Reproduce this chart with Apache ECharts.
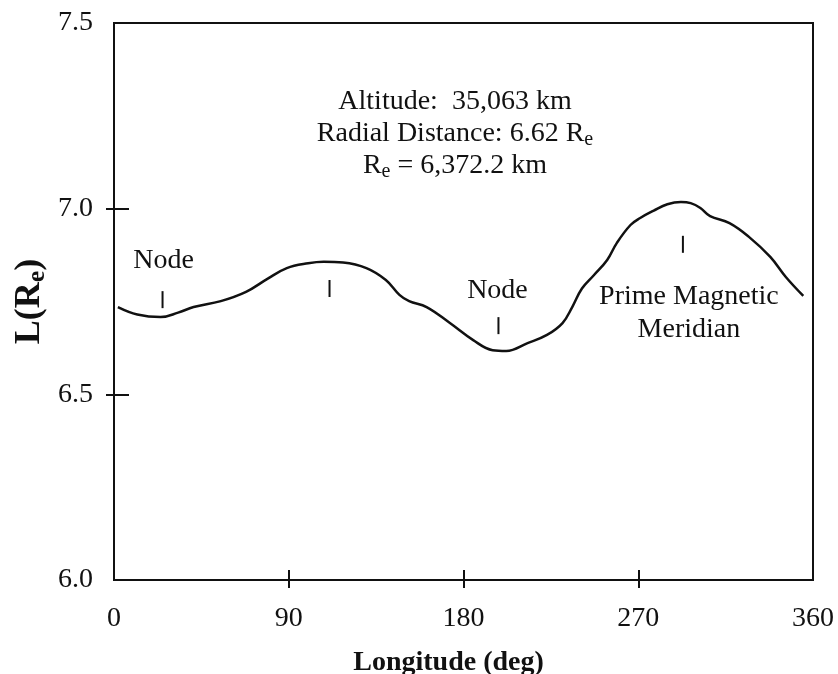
<!DOCTYPE html>
<html>
<head>
<meta charset="utf-8">
<script src="https://cdn.jsdelivr.net/npm/echarts@6/dist/echarts.min.js"></script>
<style>
html,body{margin:0;padding:0;background:#fff;}
#chart{width:838px;height:674px;}
</style>
</head>
<body>
<div id="chart"></div>
<script>
// ---- data ----
const longitude = [2, 12, 24, 33, 41, 55, 68, 79, 89, 100, 108, 118, 130, 140, 147, 152, 161, 173, 185, 195, 202, 213, 223, 231, 236, 241, 247, 254, 259, 266, 271, 278, 285, 292, 297, 302, 307, 317, 327, 338, 346, 355];
const lValue    = [6.735, 6.715, 6.708, 6.72, 6.735, 6.751, 6.776, 6.811, 6.840, 6.853, 6.857, 6.855, 6.840, 6.808, 6.768, 6.751, 6.735, 6.692, 6.646, 6.619, 6.617, 6.638, 6.660, 6.692, 6.735, 6.785, 6.820, 6.862, 6.908, 6.956, 6.975, 6.995, 7.012, 7.018, 7.015, 7.002, 6.980, 6.961, 6.924, 6.870, 6.816, 6.765];
const markerLon = [25, 111, 198, 293];
const markerL   = [6.755, 6.785, 6.685, 6.904];
const markerText = ['Node', '', 'Node', 'Prime Magnetic\nMeridian'];
const xTicks = [90, 180, 270];
const yTicks = [6.5, 7.0];
const xLabels = [0, 90, 180, 270, 360];
const yLabels = [6.0, 6.5, 7.0, 7.5];

// ---- style ----
const FONT = '"Liberation Serif", "Times New Roman", serif';
const INK = '#111';

const chart = echarts.init(document.getElementById('chart'));

const curve = longitude.map((x, i) => [x, lValue[i]]);
const markerLabelCfg = [
  {position: 'top', distance: 14, offset: [1, 0]},
  {show: false},
  {position: 'top', distance: 10, offset: [-1, 0]},
  {position: 'bottom', distance: 27, offset: [6, 0]}
];
const markers = markerLon.map((x, i) => ({
  value: [x, markerL[i]],
  name: markerText[i],
  label: Object.assign({
    show: markerText[i] !== '', formatter: '{b}',
    fontFamily: FONT, fontSize: 28, color: INK, lineHeight: 33, align: 'center'
  }, markerLabelCfg[i])
}));

const option = {
  animation: false,
  backgroundColor: '#fff',
  grid: {left: 114, right: 25, top: 23, bottom: 94, outerBoundsMode: 'none', containLabel: false,
    show: true, borderColor: '#111', borderWidth: 2, backgroundColor: 'transparent'},
  xAxis: [{
    type: 'value', min: 0, max: 360, interval: 90, position: 'bottom',
    name: 'Longitude (deg)', nameLocation: 'middle', nameGap: 69, nameMoveOverlap: false,
    nameTextStyle: {fontFamily: FONT, fontSize: 28, fontWeight: 'bold', color: INK, verticalAlign: 'top', padding: [0, 30, 0, 0]},
    axisLine: {show: true, onZero: false, lineStyle: {color: '#111', width: 2}},
    axisTick: {show: true, inside: true, length: 10, customValues: xTicks, lineStyle: {color: '#111', width: 2}},
    axisLabel: {show: true, customValues: xLabels, margin: 25, fontFamily: FONT, fontSize: 28, color: INK},
    splitLine: {show: false}
  }, {
    type: 'value', min: 0, max: 360, interval: 90, position: 'bottom', gridIndex: 0,
    axisLine: {show: false},
    axisTick: {show: true, inside: false, length: 8, customValues: xTicks, lineStyle: {color: '#111', width: 2}},
    axisLabel: {show: false},
    splitLine: {show: false}
  }],
  yAxis: [{
    type: 'value', min: 6.0, max: 7.5, interval: 0.5, position: 'left',
    name: 'L(R{s|e})', nameLocation: 'middle', nameGap: 64, nameRotate: 90, nameMoveOverlap: false,
    nameTextStyle: {fontFamily: FONT, fontSize: 36, fontWeight: 'bold', color: INK,
      rich: {s: {fontFamily: FONT, fontSize: 26, fontWeight: 'bold', color: INK, padding: [14, 0, 0, 0]}}},
    axisLine: {show: true, onZero: false, lineStyle: {color: '#111', width: 2}},
    axisTick: {show: true, inside: true, length: 15, customValues: yTicks, lineStyle: {color: '#111', width: 2}},
    axisLabel: {show: true, customValues: yLabels, margin: 21, fontFamily: FONT, fontSize: 28, color: INK,
      formatter: v => v.toFixed(1)},
    splitLine: {show: false}
  }, {
    type: 'value', min: 6.0, max: 7.5, interval: 0.5, position: 'left', gridIndex: 0,
    axisLine: {show: false},
    axisTick: {show: true, inside: false, length: 8, customValues: yTicks, lineStyle: {color: '#111', width: 2}},
    axisLabel: {show: false},
    splitLine: {show: false}
  }],
  graphic: [{
    type: 'text', x: 455, y: 86, z: 10,
    style: {
      text: '{n|Altitude:  35,063 km}\n{n|Radial Distance: 6.62 R}{s|e}\n{n|R}{s|e}{n| = 6,372.2 km}',
      textAlign: 'center', textVerticalAlign: 'top',
      fontFamily: FONT, fontSize: 28, fill: INK,
      rich: {
        n: {fontFamily: FONT, fontSize: 28, lineHeight: 32, fill: INK},
        s: {fontFamily: FONT, fontSize: 20, lineHeight: 20, padding: [12, 0, 0, 0], fill: INK}
      }
    }
  }],
  series: [{
    type: 'line', xAxisIndex: 0, yAxisIndex: 0,
    data: curve, smooth: 0.4, showSymbol: false,
    lineStyle: {color: '#111', width: 2.5}
  }, {
    type: 'scatter', xAxisIndex: 0, yAxisIndex: 0,
    data: markers, symbol: 'rect', symbolSize: [2, 17],
    itemStyle: {color: '#111', opacity: 1},
    label: {fontFamily: FONT, fontSize: 28, color: INK, lineHeight: 33, align: 'center'}
  }]
};
chart.setOption(option);
</script>
</body>
</html>
